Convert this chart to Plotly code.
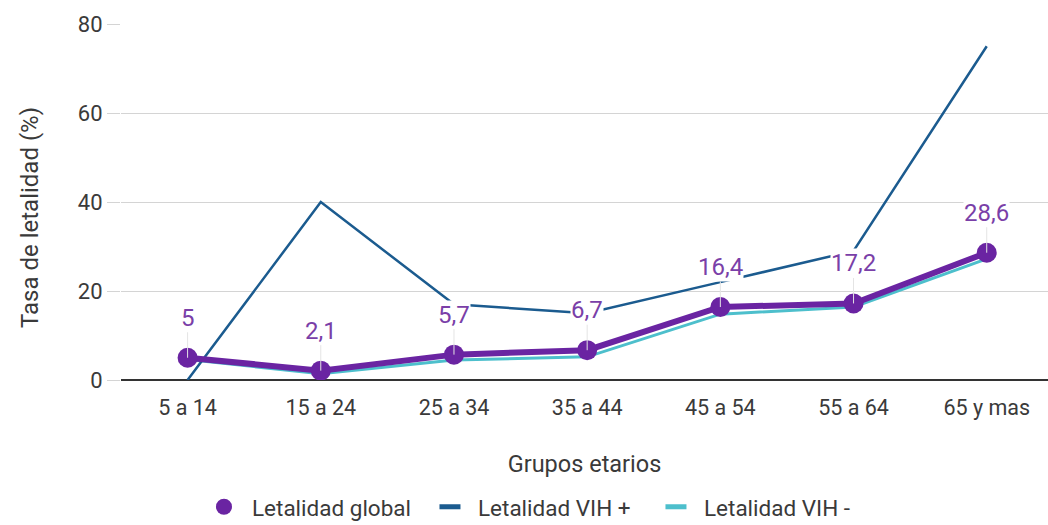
import plotly.graph_objects as go

grupos = ["5 a 14", "15 a 24", "25 a 34", "35 a 44", "45 a 54", "55 a 64", "65 y mas"]
letalidad_global = [5, 2.1, 5.7, 6.7, 16.4, 17.2, 28.6]
letalidad_vih_pos = [0, 40, 17, 15, 22, 29, 75]
letalidad_vih_neg = [4.6, 1.4, 4.5, 5.2, 14.8, 16.4, 27.2]

c_global = "#6a24a2"
c_pos = "#1b5b8f"
c_neg = "#4dbfcc"
c_text = "#3a3a3a"
font_family = "Roboto, Arial, sans-serif"

fig = go.Figure()

fig.add_trace(go.Scatter(x=grupos, y=letalidad_vih_neg, mode="lines",
                         line=dict(color=c_neg, width=3), showlegend=False))
fig.add_trace(go.Scatter(x=grupos, y=letalidad_vih_pos, mode="lines",
                         line=dict(color=c_pos, width=2.5), showlegend=False))
fig.add_trace(go.Scatter(x=grupos, y=letalidad_global, mode="lines+markers",
                         line=dict(color=c_global, width=6),
                         marker=dict(color=c_global, size=20), showlegend=False))

# legend entries
fig.add_trace(go.Scatter(x=[None], y=[None], mode="markers", name="Letalidad global",
                         marker=dict(color=c_global, size=19, symbol="circle")))
fig.add_trace(go.Scatter(x=[None], y=[None], mode="markers", name="Letalidad VIH +",
                         marker=dict(symbol="line-ew", size=15,
                                     line=dict(color=c_pos, width=5))))
fig.add_trace(go.Scatter(x=[None], y=[None], mode="markers", name="Letalidad VIH -",
                         marker=dict(symbol="line-ew", size=15,
                                     line=dict(color=c_neg, width=5))))


def fmt(v):
    return f"{v:g}".replace(".", ",")


for g, v in zip(grupos, letalidad_global):
    fig.add_annotation(x=g, y=v, text=fmt(v), showarrow=True, arrowhead=0,
                       arrowwidth=1, arrowcolor="#e4e4e4", ax=0, ay=-40,
                       bgcolor="white", borderpad=0,
                       font=dict(family=font_family, size=24, color="#7a3fa8"))

# vertical axis title
fig.add_annotation(text="Tasa de letalidad (%)", textangle=-90,
                   xref="paper", yref="paper", x=(30 - 121) / 927, y=(380 - 218) / 356,
                   xanchor="center", yanchor="middle", showarrow=False,
                   font=dict(family=font_family, size=24, color=c_text))

fig.update_layout(
    width=1048, height=525,
    margin=dict(l=121, r=0, t=24, b=145),
    paper_bgcolor="white", plot_bgcolor="white",
    font=dict(family=font_family, size=21, color=c_text),
    showlegend=True,
    legend=dict(orientation="h", xref="container", yref="container",
                x=0.187, xanchor="left", y=0.034, yanchor="middle",
                font=dict(family=font_family, size=22.5, color=c_text),
                entrywidth=165, itemwidth=46, itemsizing="trace"),
    xaxis=dict(range=[-0.5, 6.46], showgrid=False, zeroline=False,
               ticks="outside", ticklen=8, tickcolor="rgba(0,0,0,0)",
               tickfont=dict(size=21.5, color=c_text),
               title=dict(text="Grupos etarios", standoff=36,
                          font=dict(size=23.5, color=c_text))),
    yaxis=dict(range=[0, 80], dtick=20, showgrid=True, gridcolor="#d4d4d4",
               gridwidth=1, zeroline=True, zerolinecolor="#333333", zerolinewidth=1.5,
               ticks="outside", ticklen=13, tickcolor="#d4d4d4",
               tickfont=dict(size=22, color=c_text)),
)

fig.write_html("out.html")
